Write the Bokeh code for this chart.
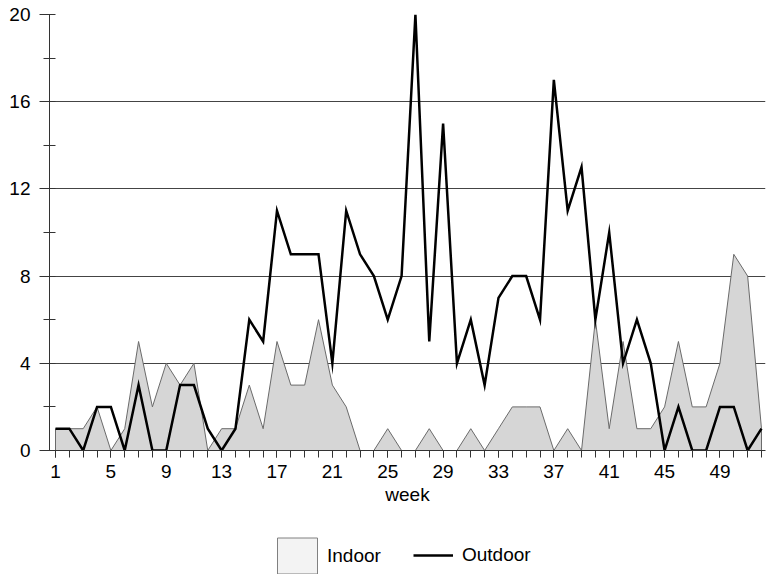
from bokeh.plotting import figure
from bokeh.layouts import column
from bokeh.models import (Range1d, SingleIntervalTicker, FixedTicker, Legend, LegendItem,
                          ColumnDataSource)
from bokeh.embed import file_html
from bokeh.resources import INLINE

weeks = list(range(1, 53))
indoor = [1, 1, 1, 2, 0, 1, 5, 2, 4, 3,
          4, 0, 1, 1, 3, 1, 5, 3, 3, 6,
          3, 2, 0, 0, 1, 0, 0, 1, 0, 0,
          1, 0, 1, 2, 2, 2, 0, 1, 0, 6,
          1, 5, 1, 1, 2, 5, 2, 2, 4, 9,
          8, 1]
outdoor = [1, 1, 0, 2, 2, 0, 3, 0, 0, 3,
           3, 1, 0, 1, 6, 5, 11, 9, 9, 9,
           4, 11, 9, 8, 6, 8, 20, 5, 15, 4,
           6, 3, 7, 8, 8, 6, 17, 11, 13, 6,
           10, 4, 6, 4, 0, 2, 0, 0, 2, 2,
           0, 1]
x_label_ticks = list(range(1, 53, 4))

FONT = "Liberation Sans"
FILL = "#d6d6d6"
EDGE = "#6a6a6a"

p = figure(width=766, height=512, output_backend="svg", toolbar_location=None,
           x_range=Range1d(0.566, 52.29), y_range=Range1d(0, 20),
           min_border_left=49, min_border_right=1, min_border_top=14,
           min_border_bottom=62)
p.outline_line_color = None
p.xgrid.grid_line_color = None
p.ygrid.grid_line_color = "#444444"
p.ygrid.grid_line_width = 1

src = ColumnDataSource(dict(x=weeks, indoor=indoor, outdoor=outdoor))

px = weeks + [weeks[-1], weeks[0]]
py = indoor + [0, 0]
p.patch(px, py, fill_color=FILL, line_color=EDGE, line_width=1)
p.line("x", "outdoor", source=src, line_color="black", line_width=2.5,
       line_join="miter")

# x axis
xa = p.xaxis[0]
xa.ticker = FixedTicker(ticks=x_label_ticks, minor_ticks=weeks)
xa.axis_label = "week"
xa.axis_label_text_font = FONT
xa.axis_label_text_font_style = "normal"
xa.axis_label_text_font_size = "19px"
xa.axis_label_text_color = "black"
xa.axis_label_standoff = 3
xa.major_label_text_font = FONT
xa.major_label_text_font_size = "19px"
xa.major_label_text_color = "black"
xa.major_label_standoff = 7
xa.major_tick_in = 0
xa.major_tick_out = 7
xa.minor_tick_in = 0
xa.minor_tick_out = 7
xa.axis_line_color = "#333333"
xa.major_tick_line_color = "#333333"
xa.minor_tick_line_color = "#333333"

# y axis
ya = p.yaxis[0]
ya.ticker = SingleIntervalTicker(interval=4, num_minor_ticks=2)
ya.major_label_text_font = FONT
ya.major_label_text_font_size = "19px"
ya.major_label_text_color = "black"
ya.major_label_standoff = 9
ya.major_tick_in = 0
ya.major_tick_out = 10
ya.minor_tick_in = 6
ya.minor_tick_out = 6
ya.axis_line_color = "#333333"
ya.major_tick_line_color = "#333333"
ya.minor_tick_line_color = "#333333"

# legend strip below the chart
lg = figure(width=766, height=62, output_backend="svg", toolbar_location=None,
            x_range=Range1d(100, 101), y_range=Range1d(100, 101),
            x_axis_location=None, y_axis_location=None, min_border=0)
lg.outline_line_color = None
lg.grid.grid_line_color = None
r_in = lg.patch(px, py, fill_color="#f3f3f3", line_color="#808080", line_width=1)
r_out = lg.line(weeks, outdoor, line_color="black", line_width=2.5)

common = dict(orientation="horizontal", label_text_font=FONT,
              label_text_font_size="19px", label_text_color="black",
              border_line_color=None, background_fill_alpha=0,
              padding=0, margin=0)
leg_in = Legend(items=[LegendItem(label="Indoor", renderers=[r_in])],
                location=(223, -4), glyph_width=50, glyph_height=45,
                label_standoff=5, **common)
leg_out = Legend(items=[LegendItem(label="Outdoor", renderers=[r_out])],
                 location=(364, 8), glyph_width=40, glyph_height=20,
                 label_standoff=9, **common)
lg.add_layout(leg_in, "center")
lg.add_layout(leg_out, "center")

layout = column(p, lg, spacing=0)
open("out.html", "w").write(file_html(layout, INLINE))
